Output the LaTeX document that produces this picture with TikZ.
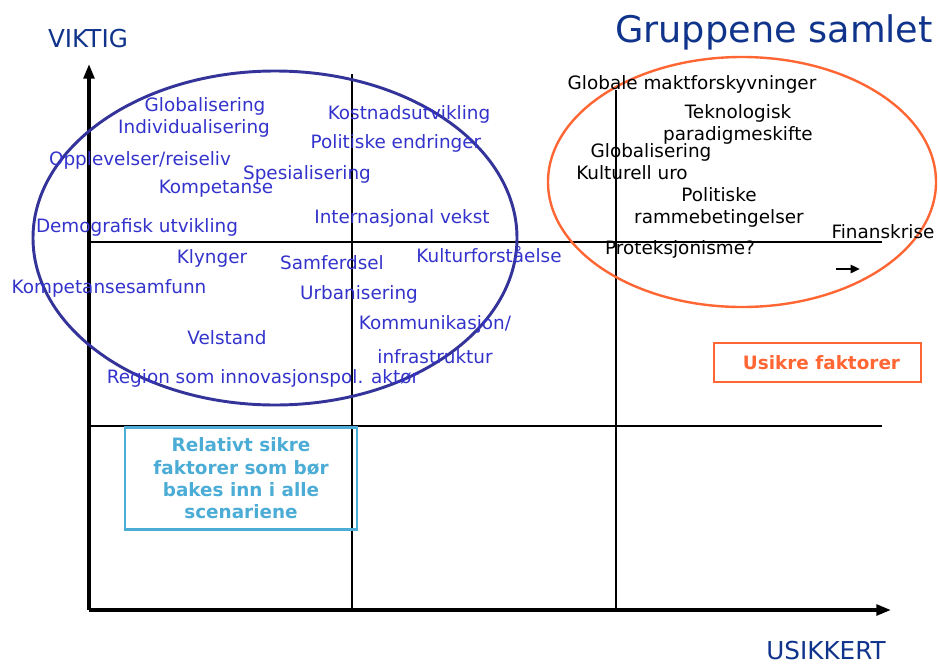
\documentclass[tikz,border=0pt]{standalone}
\usepackage{fontspec}
\setmainfont{DejaVu Sans}
\usetikzlibrary{positioning, arrows.meta}

\definecolor{blaatekst}{RGB}{51,51,204}
\definecolor{blaaring}{RGB}{51,51,153}
\definecolor{oransje}{RGB}{255,102,51}
\definecolor{lysblaa}{RGB}{75,172,214}
\definecolor{titelblaa}{RGB}{16,52,140}

\begin{document}
\begin{tikzpicture}[x=0.75pt, y=-0.75pt, font=\fontsize{13.8}{16.7}\selectfont]
        \tikzset{
            % Define standard arrow tip
            >={Triangle[length=11pt, width=8pt]},
            % Define style for the factors
            viktig/.style={
                    text=blaatekst,
                    inner sep=0pt,
                    text height=10pt,
                    text depth=0pt},
            usikker/.style={
                    viktig,
                    text=black},
            % Define style for the labelled boxes
            boks/.style={
                    rectangle,
                    line width=1.7pt,
                    font=\fontsize{13.8}{16.7}\selectfont\bfseries,
                    align=center},
            % Define line styles
            akse/.style={
                    ->,
                    line width=2.6pt},
            skille/.style={
                    line width=1.6pt},
        }
        \useasboundingbox (0,0) rectangle (938,664);

        % Axes and quadrant lines
        \coordinate (O) at (89,610);
        \coordinate (ytopp) at (89,64);
        \coordinate (xslutt) at (891,610);
        \coordinate (v1topp) at (352,74);
        \coordinate (v1bunn) at (352,610);
        \coordinate (v2topp) at (616,90);
        \coordinate (v2bunn) at (616,610);
        \coordinate (h1a) at (89,242);
        \coordinate (h1b) at (882,242);
        \coordinate (h2a) at (89,426);
        \coordinate (h2b) at (882,426);
        \draw[skille] (v1topp) -- (v1bunn);
        \draw[skille] (v2topp) -- (v2bunn);
        \draw[skille] (h1a) -- (h1b);
        \draw[skille] (h2a) -- (h2b);
        \draw[akse] (O) -- (ytopp);
        \draw[akse] (O) -- (xslutt);

        % Axis titles
        \node[text=titelblaa, font=\fontsize{27.5}{33}\selectfont, anchor=base] (tittel) at (774,42) {Gruppene samlet};
        \node[text=titelblaa, font=\fontsize{18.5}{22}\selectfont, anchor=base] (viktigakse) at (88,47) {VIKTIG};
        \node[text=titelblaa, font=\fontsize{18.5}{22}\selectfont, anchor=base] (usikkerakse) at (826,659) {USIKKERT};

        % The two groupings
        \draw[blaaring, line width=2.2pt] (275,238) ellipse [x radius=181.5pt, y radius=125.25pt];
        \draw[oransje, line width=1.8pt] (742,182) ellipse [x radius=145.5pt, y radius=93.75pt];

        % Important and relatively certain factors
        \node[viktig] (globalisering) at (205,105) {Globalisering};
        \node[viktig] (individualisering) at (194,127) {Individualisering};
        \node[viktig] (opplevelser) at (140,159) {Opplevelser/reiseliv};
        \node[viktig] (kompetanse) at (216,187) {Kompetanse};
        \node[viktig] (demografi) at (137,226) {Demografisk utvikling};
        \node[viktig] (klynger) at (212,257) {Klynger};
        \node[viktig] (kostnad) at (409,113) {Kostnadsutvikling};
        \node[viktig] (politiske) at (396,142) {Politiske endringer};
        \node[viktig] (spesialisering) at (307,173) {Spesialisering};
        \node[viktig] (internasjonal) at (402,217) {Internasjonal vekst};
        \node[viktig] (samferdsel) at (332,263) {Samferdsel};
        \node[viktig] (kulturforst) at (489,256) {Kulturforståelse};
        \node[viktig] (kompsamf) at (109,287) {Kompetansesamfunn};
        \node[viktig] (urbanisering) at (359,293) {Urbanisering};
        \node[viktig] (kommunikasjon) at (435,323) {Kommunikasjon/};
        \node[viktig] (infrastruktur) at (435,357) {infrastruktur};
        \node[viktig] (velstand) at (227,338) {Velstand};
        \node[viktig] (region) at (263,377) {Region som innovasjonspol. aktør};

        % Uncertain factors
        \node[usikker] (maktforsk) at (692,83) {Globale maktforskyvninger};
        \node[usikker] (teknologisk) at (738,112) {Teknologisk};
        \node[usikker] (paradigme) at (738,134) {paradigmeskifte};
        \node[usikker] (globalisering2) at (651,151) {Globalisering};
        \node[usikker] (kulturelluro) at (632,173) {Kulturell uro};
        \node[usikker] (politiske2) at (719,195) {Politiske};
        \node[usikker] (rammebet) at (719,217) {rammebetingelser};
        \node[usikker] (finanskrise) at (883,232) {Finanskrise};
        \node[usikker] (proteksjon) at (680,248) {Proteksjonisme?};
        \coordinate (pilA) at (836,269);
        \coordinate (pilB) at (860,269);
        \draw[->, >={Triangle[length=7pt, width=6pt]}, line width=1.8pt] (pilA) -- (pilB);

        % Labelled boxes
        \node[boks, draw=lysblaa, text=lysblaa, minimum width=174pt, minimum height=76.5pt] (sikre) at (241,478.5)
            {Relativt sikre\\faktorer som bør\\bakes inn i alle\\scenariene};
        \node[boks, draw=oransje, text=oransje, minimum width=155pt, minimum height=29pt] (usikre) at (817.5,362.5)
            {\hspace{6pt}Usikre faktorer};

\end{tikzpicture}
\end{document}
